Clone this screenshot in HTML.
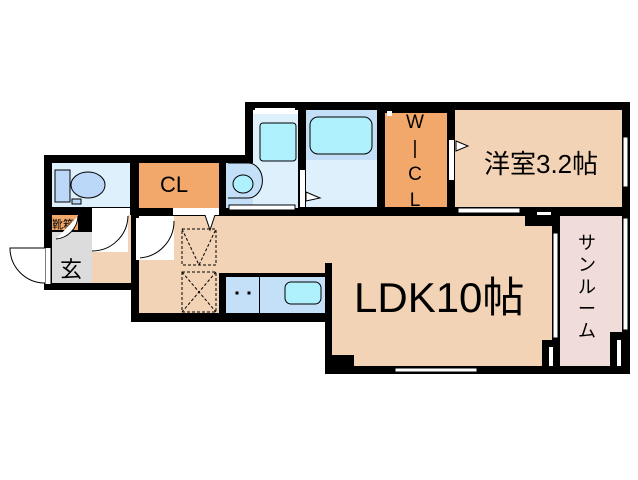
<!DOCTYPE html>
<html><head><meta charset="utf-8"><style>
body{margin:0;background:#fff;width:638px;height:480px;position:relative;overflow:hidden;font-family:"Liberation Sans","Noto Sans CJK JP",sans-serif}
div{position:absolute;box-sizing:border-box}
.k{background:#000}
.t{color:#000;white-space:nowrap}
</style></head><body>
<div class="k" style="left:245px;top:102px;width:385px;height:114px"></div>
<div class="k" style="left:44px;top:155px;width:95px;height:135px"></div>
<div class="k" style="left:131px;top:155px;width:201px;height:167px"></div>
<div class="k" style="left:325px;top:207px;width:305px;height:167px"></div>

<div style="left:52px;top:163px;width:78px;height:44px;background:#ddf0fb"></div>
<div style="left:139px;top:163px;width:80px;height:45px;background:#f2a86a"></div>
<div class="t" style="left:160px;top:172px;font-size:22px">CL</div>
<div style="left:253px;top:112px;width:45px;height:96px;background:#ddf0fb"></div>
<div style="left:226px;top:163px;width:27px;height:45px;background:#c4e0f8"></div>
<div style="left:253px;top:110px;width:45px;height:4px;background:#fff"></div>
<div style="left:306px;top:110px;width:71px;height:50px;background:#c4e0f8"></div>
<div style="left:306px;top:160px;width:71px;height:47px;background:#ddf0fb"></div>
<div style="left:385px;top:113px;width:62px;height:94px;background:#f2a86a"></div>
<div class="t" style="left:404px;top:110px;font-size:19px;line-height:26px;text-align:center;width:22px">W<br>|<br>C<br>L</div>
<div style="left:455px;top:110px;width:167px;height:97px;background:#f2d3b5"></div>
<div class="t" style="left:484px;top:144px;font-size:26px">洋室3.2帖</div>
<div style="left:139px;top:216px;width:413px;height:97px;background:#f2d3b5"></div>
<div style="left:332px;top:216px;width:220px;height:150px;background:#f2d3b5"></div>
<div style="left:92px;top:215px;width:39px;height:68px;background:#f2d3b5"></div>
<div class="k" style="left:219px;top:273px;width:113px;height:42px"></div>
<div class="k" style="left:325px;top:263px;width:7px;height:52px"></div>
<div class="k" style="left:525px;top:216px;width:35px;height:10px"></div>
<div style="left:226px;top:277px;width:99px;height:36px;background:#c4e0f8"></div>
<div class="k" style="left:259px;top:277px;width:1px;height:36px"></div>
<div class="t" style="left:354px;top:264px;font-size:42px">LDK10帖</div>
<div style="left:52px;top:232px;width:40px;height:51px;background:#dcdcdc"></div>
<div style="left:52px;top:215px;width:26px;height:15px;background:#f2a86a"></div>
<div class="t" style="left:52px;top:216px;font-size:11px">靴箱</div>
<div class="t" style="left:60px;top:252px;font-size:22px">玄</div>
<div style="left:560px;top:216px;width:62px;height:150px;background:#f0dcd8"></div>
<div class="t" style="left:576px;top:232px;font-size:18px;line-height:22px;width:22px;text-align:center">サ<br>ン<br>ル<br>ー<br>ム</div>
<div class="k" style="left:610px;top:332px;width:20px;height:42px"></div>
<div class="k" style="left:542px;top:340px;width:18px;height:34px"></div>
<div class="k" style="left:332px;top:355px;width:22px;height:11px"></div>

<svg width="638" height="480" style="position:absolute;left:0;top:0" fill="none" stroke="#000" stroke-width="1">
<rect x="55" y="170" width="15" height="32" fill="#bcd8f8"/>
<ellipse cx="88" cy="185" rx="17" ry="13" fill="#bcd8f8"/>
<rect x="72" y="199" width="9" height="5" fill="#bcd8f8"/>
<rect x="260" y="123" width="36" height="38" rx="3" fill="#aef0fc"/>
<path d="M228 163 h20 a14 17 0 0 1 0 35 h-20" fill="#c4e0f8"/>
<ellipse cx="243" cy="184" rx="10" ry="9" fill="#aef0fc"/>
<rect x="310" y="117" width="62" height="37" rx="8" fill="#aef0fc"/>
<path d="M306 192 l14 6 l-14 3z" fill="#fff"/>
<rect x="285" y="282" width="36" height="22" rx="6" fill="#aef0fc"/>
<rect x="236" y="292" width="2" height="2" fill="#000"/><rect x="248" y="292" width="2" height="2" fill="#000"/>
<g stroke-dasharray="3,2">
<rect x="182" y="229" width="34" height="36"/><path d="M182 229 L199 265 L216 229"/>
<rect x="182" y="272" width="34" height="40"/><path d="M182 272 L216 312 M216 272 L182 312"/>
<path d="M229 213 h70"/><path d="M520 213 h30"/>
</g>
<path d="M205 215 l5 15 l5 -15" fill="#fff"/>
<path d="M456 141 l12 5 l-12 5z" fill="#fff"/>
<rect x="139" y="216" width="35" height="44" fill="#fff" stroke="none"/>
<path d="M139 258 A37 37 0 0 0 174 221"/>
<rect x="92" y="208" width="38" height="7" fill="#fff" stroke="none"/>
<rect x="92" y="215" width="36" height="37" fill="#fff" stroke="none"/>
<path d="M92 251 A36 36 0 0 0 128 216"/>
<path d="M56 239 A24 24 0 0 0 78 216" fill="#fff"/>
<rect x="45" y="248" width="6" height="36" fill="#fff" stroke="none"/>
<path d="M45 248 v36 M51 248 v36"/>
<path d="M45 248 H10 A35 35 0 0 0 45 283" fill="#fff"/>
<rect x="136" y="218" width="4" height="42" fill="#fff" stroke="none"/>
<rect x="229" y="205" width="66" height="5" fill="#fff"/>
<rect x="173" y="208" width="46" height="7" fill="#fff" stroke="none"/>
<rect x="300" y="170" width="5" height="37" fill="#fff" stroke="none"/>
<rect x="449" y="140" width="5" height="40" fill="#fff" stroke="none"/>
<rect x="458" y="208" width="62" height="5" fill="#fff"/>
<rect x="623" y="137" width="5" height="50" fill="#fff"/>
<rect x="623" y="218" width="5" height="112" fill="#fff"/>
<rect x="553" y="233" width="5" height="105" fill="#fff"/>
<rect x="395" y="368" width="82" height="4" fill="#fff"/>
<rect x="255" y="108" width="40" height="4" fill="#fff" stroke="none"/>
<rect x="387" y="111" width="5" height="5" fill="#fff" stroke="none"/>
<rect x="617" y="340" width="4" height="26" fill="#fff" stroke="none"/>
<rect x="549" y="347" width="4" height="19" fill="#fff" stroke="none"/>
<rect x="537" y="212" width="14" height="3" fill="#fff" stroke="none"/>
</svg>
</body></html>
